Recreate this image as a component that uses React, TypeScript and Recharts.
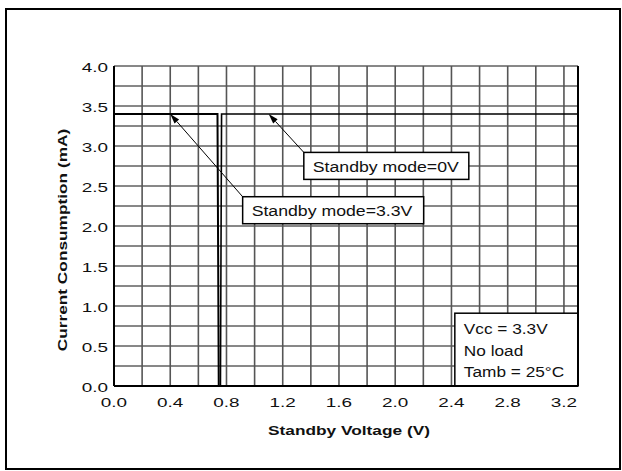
import React from "react";
import {
  CartesianGrid,
  Line,
  LineChart,
  ReferenceArea,
  ReferenceDot,
  ReferenceLine,
  XAxis,
  YAxis,
} from "recharts";

// curve: standby pin held at 3.3V
const MODE_33V_VOLTS = [0, 0.736, 0.745];
const MODE_33V_MA = [3.4, 3.4, 0];
// curve: standby pin held at 0V
const MODE_0V_VOLTS = [0, 0.757, 0.765, 3.3];
const MODE_0V_MA = [0, 0, 3.4, 3.4];

const X_TICKS = [0, 0.2, 0.4, 0.6, 0.8, 1.0, 1.2, 1.4, 1.6, 1.8, 2.0, 2.2, 2.4, 2.6, 2.8, 3.0, 3.2];
const Y_TICKS = [0, 0.25, 0.5, 0.75, 1, 1.25, 1.5, 1.75, 2, 2.25, 2.5, 2.75, 3, 3.25, 3.5, 3.75, 4];

const LABEL_0V = "Standby mode=0V";
const LABEL_33V = "Standby mode=3.3V";
const NOTE_LINES = ["Vcc = 3.3V", "No load", "Tamb = 25°C"];

// where the callouts sit (data coords) and where their arrows point
const BOX_0V = { x: 1.35, y: 2.92 };
const TIP_0V = { x: 1.1, y: 3.4 };
const BOX_33V = { x: 0.915, y: 2.366 };
const TIP_33V = { x: 0.4, y: 3.4 };
const NOTE_CORNER = { x: 2.424, y: 0.91 };

const FONT = '"Liberation Sans", Arial, Helvetica, sans-serif';

const mode33 = MODE_33V_VOLTS.map((v, i) => ({ v, i: MODE_33V_MA[i] }));
const mode0 = MODE_0V_VOLTS.map((v, i) => ({ v, i: MODE_0V_MA[i] }));

function XTick(props: any) {
  const { x, y, payload } = props;
  const val = payload.value as number;
  if (Math.round(val * 10) % 4 !== 0) return null;
  return (
    <text
      transform={`translate(${x},${y + 21}) scale(1.4,1)`}
      textAnchor="middle"
      fontFamily={FONT}
      fontSize={13.5}
      fill="#111"
    >
      {val.toFixed(1)}
    </text>
  );
}

function YTick(props: any) {
  const { x, y, payload } = props;
  const val = payload.value as number;
  if (Math.round(val * 100) % 50 !== 0) return null;
  return (
    <text
      transform={`translate(${x - 6},${y + 6.3}) scale(1.4,1)`}
      textAnchor="end"
      fontFamily={FONT}
      fontSize={13.5}
      fill="#111"
    >
      {val.toFixed(1)}
    </text>
  );
}

function Arrow(props: any) {
  const { x1, y1, x2, y2 } = props;
  const dx = x2 - x1;
  const dy = y2 - y1;
  const len = Math.sqrt(dx * dx + dy * dy);
  const ux = dx / len;
  const uy = dy / len;
  const bx = x2 - ux * 10;
  const by = y2 - uy * 10;
  const hw = 3;
  return (
    <g>
      <line x1={x1} y1={y1} x2={bx} y2={by} stroke="#000" strokeWidth={1} />
      <polygon
        points={`${x2},${y2} ${bx - uy * hw},${by + ux * hw} ${bx + uy * hw},${by - ux * hw}`}
        fill="#000"
      />
    </g>
  );
}

function callout(text: string, w: number) {
  return (props: any) => {
    const { cx, cy } = props;
    return (
      <g>
        <rect x={cx} y={cy} width={w} height={27} fill="#fff" stroke="#000" strokeWidth={1.5} />
        <text
          transform={`translate(${cx + 9},${cy + 19.5}) scale(1.18,1)`}
          fontFamily={FONT}
          fontSize={15}
          fill="#111"
        >
          {text}
        </text>
      </g>
    );
  };
}

function NoteBox(props: any) {
  const { x, y, width, height } = props;
  return (
    <g>
      <rect x={x} y={y} width={width} height={height} fill="#fff" stroke="#000" strokeWidth={1.5} />
      {NOTE_LINES.map((t, k) => (
        <text
          key={t}
          transform={`translate(${x + 9},${y + 21 + k * 21.5}) scale(1.15,1)`}
          fontFamily={FONT}
          fontSize={15}
          fill="#111"
        >
          {t}
        </text>
      ))}
    </g>
  );
}

export default function App() {
  return (
    <div style={{ position: "absolute", left: 0, top: 0, width: 622, height: 471, background: "#fff" }}>
      <LineChart
        width={622}
        height={471}
        margin={{ top: 66, right: 44, bottom: 0, left: 0 }}
      >
        <CartesianGrid horizontal={true} vertical={false} stroke="#111" strokeWidth={1} />
        <CartesianGrid horizontal={false} vertical={true} stroke="#555" strokeWidth={1.6} />
        <XAxis
          type="number"
          dataKey="v"
          domain={[0, 3.3]}
          ticks={X_TICKS}
          interval={0}
          allowDataOverflow
          height={85}
          tickSize={0}
          tickMargin={0}
          tick={<XTick />}
          axisLine={{ stroke: "#000", strokeWidth: 2 }}
          label={{
            content: (p: any) => {
              const vb = p.viewBox;
              return (
                <text
                  transform={`translate(${vb.x + vb.width / 2 + 3},435) scale(1.33,1)`}
                  textAnchor="middle"
                  fontFamily={FONT}
                  fontWeight="bold"
                  fontSize={13}
                  fill="#111"
                >
                  Standby Voltage (V)
                </text>
              );
            },
          }}
        />
        <YAxis
          type="number"
          domain={[0, 4]}
          ticks={Y_TICKS}
          interval={0}
          width={114}
          tickSize={0}
          tickMargin={0}
          tick={<YTick />}
          axisLine={{ stroke: "#000", strokeWidth: 2 }}
          label={{
            content: () => (
              <text
                transform="translate(66.5,240) rotate(-90) scale(1.33,1)"
                textAnchor="middle"
                fontFamily={FONT}
                fontWeight="bold"
                fontSize={13}
                fill="#111"
              >
                Current Consumption (mA)
              </text>
            ),
          }}
        />
        <ReferenceLine x={3.3} stroke="#000" strokeWidth={2} />
        <Line
          data={mode33}
          dataKey="i"
          type="linear"
          stroke="#000"
          strokeWidth={2}
          dot={false}
          isAnimationActive={false}
        />
        <Line
          data={mode0}
          dataKey="i"
          type="linear"
          stroke="#000"
          strokeWidth={1.6}
          dot={false}
          isAnimationActive={false}
        />
        <ReferenceLine segment={[BOX_0V, TIP_0V]} shape={Arrow} />
        <ReferenceLine segment={[BOX_33V, TIP_33V]} shape={Arrow} />
        <ReferenceDot x={BOX_0V.x} y={BOX_0V.y} shape={callout(LABEL_0V, 165)} />
        <ReferenceDot x={BOX_33V.x} y={BOX_33V.y} shape={callout(LABEL_33V, 181)} />
        <ReferenceArea
          x1={NOTE_CORNER.x}
          x2={3.3}
          y1={0}
          y2={NOTE_CORNER.y}
          shape={NoteBox}
        />
      </LineChart>
      <div
        style={{
          position: "absolute",
          left: 5,
          top: 8,
          width: 616,
          height: 462,
          boxSizing: "border-box",
          border: "2px solid #000",
          pointerEvents: "none",
        }}
      />
    </div>
  );
}
